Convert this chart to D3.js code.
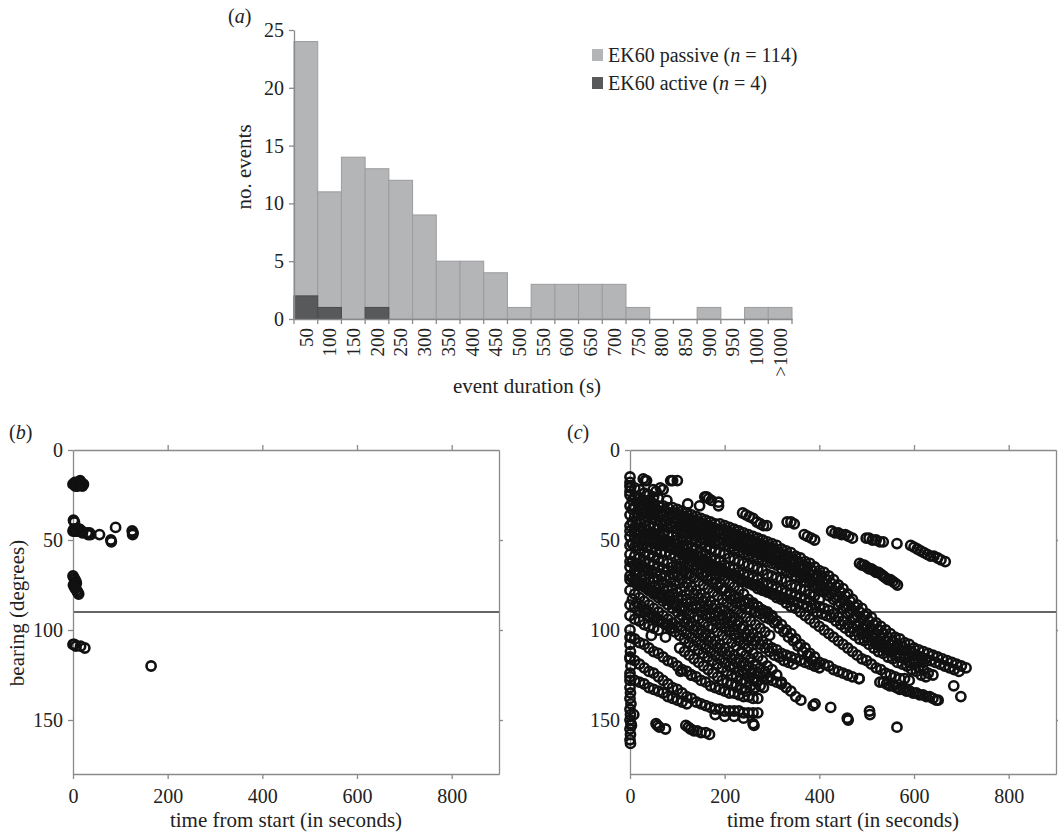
<!DOCTYPE html>
<html><head><meta charset="utf-8">
<script src="https://cdn.jsdelivr.net/npm/d3@7"></script>
<style>
body{margin:0;background:#fff}
svg{display:block}
text{font-family:"Liberation Serif","Times New Roman",serif;fill:#222}
</style>
</head><body>
<svg id="chart" width="1058" height="835"></svg>
<script>
// ---------- Panel (a) data ----------
const durationBins = ["50","100","150","200","250","300","350","400","450","500","550","600","650","700","750","800","850","900","950","1000",">1000"];
const passiveCounts = [24,11,14,13,12,9,5,5,4,1,3,3,3,3,1,0,0,1,0,1,1];
const activeCounts  = [2,1,0,1,0,0,0,0,0,0,0,0,0,0,0,0,0,0,0,0,0];
const histYTicks = [0,5,10,15,20,25];
const legendLabels = [["EK60 passive (", "n", " = 114)"], ["EK60 active (", "n", " = 4)"]];

// ---------- Panels (b),(c) axes ----------
const bearingTicks = [0,50,100,150];
const timeTicks = [0,200,400,600,800];
const refBearing = 90;

// ---------- Panel (b) points [time, bearing] ----------
const panelB = [[0,19],[2,19],[4,18],[6,19],[8,19],[10,18],[12,19],[14,19],[15,17],[16,18],[18,19],[20,20],[22,19],[5,20],[10,20],
[1,39],[3,40],
[0,45],[2,44],[4,45],[8,45],[12,44],[15,45],[18,45],[20,46],[14,44],
[30,46],[32,47],[35,46],[37,47],[56,47],[80,50],[81,51],[90,43],[125,45],[126,47],[127,46],
[0,70],[2,71],[4,72],[6,73],[1,75],[3,76],[5,77],[8,78],[10,79],[12,80],[7,74],
[0,108],[3,108],[6,109],[16,109],[25,110],
[165,120]];

// ---------- Panel (c) tracks, flat [t,b, t,b, ...] ----------
const trackA1 = [0,25,10,26,20,27,30,28,40,29,50,30,60,31,70,31,80,32,90,32,100,33,110,34,120,35,130,36,140,37,150,38,160,39,170,40,180,41,190,41,200,42,210,43,220,44,230,45,240,46,250,47,260,48,270,49,280,50,290,51,300,52,310,53,320,55,330,56,340,57,350,59,360,60,370,62,380,63,390,65,400,67,410,68,420,70,430,72,440,75,450,77,460,80,470,83,480,86,490,88,500,91,510,93,520,96,530,98,540,100,550,102,560,104,570,105,580,107,590,108,600,110,610,111,620,112,630,113,640,114,650,115,660,116,670,117,680,118,690,119,700,120,710,121];
const trackA15 = [5,28,15,29,25,30,35,31,45,32,55,33,65,34,75,34,85,35,95,35,105,36,115,37,125,38,135,39,145,40,155,41,165,42,175,43,185,44,195,44,205,45,215,46,225,47,235,48,245,49,255,50,265,51,275,52,285,53,295,54,305,55,315,57,325,58,335,59,345,61,355,62,365,64,375,65,385,67,395,69,405,70,415,72,425,74,435,76,445,79,455,81,465,84,475,87,485,90,495,92,505,95,515,97,525,100,535,102,545,104,555,106,565,108,575,109,585,111,595,112,605,114,615,115,625,116,635,117,645,118,655,119,665,120,675,121,685,122,695,123];
const trackA2 = [0,31,10,32,20,33,30,34,40,35,50,36,60,37,70,37,80,38,90,38,100,39,110,40,120,41,130,42,140,43,150,44,160,45,170,46,180,47,190,47,200,48,210,49,220,50,230,51,240,52,250,53,260,54,270,55,280,56,290,57,300,58,310,59,320,61,330,62,340,63,350,65,360,66,370,68,380,69,390,71,400,73,410,74,420,76,430,78,440,81,450,83,460,86,470,89,480,92,490,94,500,97,510,99,520,102,530,104,540,106,550,108,560,110,570,111,580,113,590,114,600,116,610,117,620,118];
const trackA25 = [5,33,15,35,25,36,35,37,45,38,55,39,65,40,75,40,85,41,95,41,105,42,115,43,125,44,135,45,145,46,155,47,165,48,175,49,185,50,195,50,205,51,215,52,225,53,235,54,245,55,255,56,265,57,275,58,285,59,295,60,305,61,315,63,325,64,335,65,345,67,355,68,365,70,375,71,385,73,395,75,405,76,415,78,425,80,435,82,445,85,455,87,465,90,475,93,485,96,495,98,505,101,515,103,525,106,535,108,545,110,555,112];
const trackA3 = [60,42,70,42,80,43,90,43,100,44,110,45,120,46,130,47,140,48,150,49,160,50,170,51,180,52,190,52,200,53,210,54,220,55,230,56,240,57,250,58,260,59,270,60,280,61,290,62,300,63,310,64,320,66,330,67,340,68,350,70,360,71,370,73,380,74,390,76,400,78,410,79,420,81,430,83,440,86,450,88,460,91,470,94,480,97,490,99,500,102,510,104,520,107,530,109];
const trackB = [0,36,10,37,20,39,30,40,40,42,50,43,60,44,70,46,80,47,90,48,100,50,110,51,120,53,130,54,140,55,150,57,160,58,170,60,180,61,190,62,200,64,210,65,220,66,230,68,240,69,250,70,260,71,270,72,280,74,290,75,300,76,310,77,320,78,330,79,340,80,350,81,360,82,370,83,380,84,390,86,400,87,410,88,420,89,430,91,440,93,450,95,460,97,470,99,480,101,490,102,500,104,510,106,520,108,530,109,540,111,550,112,560,114,570,115,580,116,590,118,600,119,610,121,620,122,630,124,640,125];
const trackB15 = [5,40,15,41,25,43,35,44,45,46,55,47,65,48,75,50,85,51,95,52,105,54,115,55,125,57,135,58,145,59,155,61,165,62,175,64,185,65,195,66,205,68,215,69,225,70,235,72,245,73,255,74,265,75,275,76,285,78,295,79,305,80,315,81,325,82,335,83,345,84,355,85,365,86,375,87,385,88,395,90,405,91,415,92,425,93,435,95,445,97,455,99,465,101,475,103,485,105,495,106,505,108,515,110,525,112,535,113,545,115,555,116,565,118,575,119,585,120,595,122,605,123,615,125,625,126];
const trackB2 = [0,42,10,43,20,45,30,46,40,47,50,49,60,50,70,51,80,53,90,54,100,55,110,57,120,58,130,59,140,61,150,62,160,63,170,64,180,66,190,67,200,68,210,69,220,70,230,72,240,73,250,74,260,75,270,77,280,78,290,79,300,80,310,82,320,83,330,85,340,87,350,88,360,90,370,92,380,94,390,96,400,98,410,100,420,102,430,104,440,106,450,108,460,110,470,112,480,114,490,116,500,117,510,119,520,121,530,122,540,124,550,125,560,126,570,127,580,127,590,128];
const trackC = [0,48,10,49,20,49,30,50,40,51,50,52,60,53,70,53,80,54,90,55,100,56,110,58,120,60,130,62,140,64,150,66,160,68,170,70,180,72,190,74,200,77,210,79,220,81,230,82,240,84,250,85,260,86,270,87,280,89,290,90,300,92,310,95,320,97,330,100,340,102,350,105,360,108,370,110,380,113,390,115,400,118,410,119,420,120,430,122,440,123,450,124,460,125,470,126,484,127];
const trackCD = [5,52,15,53,25,53,35,54,45,55,55,56,65,57,75,57,85,58,95,59,105,60,115,62,125,64,135,66,145,68,155,70,165,72,175,74,185,76,195,78,205,81,215,83,225,85,235,86,245,88,255,89,265,90,275,91,285,93,295,94,305,96,315,99,325,101,335,104,345,106,355,109,365,112,375,114,385,117,395,119];
const trackD = [0,58,10,59,20,60,30,62,40,63,50,64,60,65,70,66,80,67,90,69,100,70,110,72,120,74,130,76,140,78,150,80,160,82,170,84,180,86,190,88,200,89,210,91,220,93,230,95,240,98,250,100,260,102,270,104,280,106,290,108,300,110,310,111,320,113,330,114,340,115,350,116,360,117,370,118,380,119,390,120,400,121];
const trackDE = [5,62,15,63,25,64,35,66,45,67,55,68,65,69,75,70,85,71,95,73,105,74,115,76,125,78,135,80,145,82,155,84,165,86,175,88,185,90,195,92,205,93,215,95,225,97,235,99,245,102,255,104,265,106,275,108,285,110,295,112,305,114,315,115,325,117,335,118,345,119];
const trackE = [0,65,10,67,20,68,30,70,40,72,50,73,60,75,70,77,80,78,90,80,100,82,110,83,120,85,130,87,140,88,150,90,160,92,170,93,180,95,190,97,200,99,210,101,220,103,230,106,240,108,250,110,260,113,270,115,280,117,290,120,300,122,310,125,320,129,330,132,340,134,350,137,361,139];
const trackEF = [5,71,15,73,25,74,35,76,45,78,55,79,65,81,75,83,85,84,95,86,105,88,115,89,125,91,135,93,145,94,155,96,165,98,175,99,185,101,195,103,205,105,215,107,225,109,235,112,245,114,255,116,265,119,275,121,285,123,295,126];
const trackF = [0,78,10,80,20,82,30,84,40,86,50,88,60,90,70,92,80,94,90,96,100,98,110,100,120,102,130,104,140,106,150,108,160,110,170,112,180,114,190,116,200,118,210,120,220,121,230,123,240,124,250,126,260,127,270,128];
const trackF2 = [5,83,15,85,25,87,35,89,45,91,55,93,65,95,75,97,85,99,95,101,105,103,115,105,125,107,135,109,145,111,155,113,165,115,175,117,185,119,195,121,205,123,215,125,225,126,235,128,245,129,255,131,265,132];
const trackN1 = [0,45,10,46,20,47,30,48,40,49,50,50,60,51,70,52,80,53,90,54,100,55,110,57,120,59,130,60,140,62,150,64,160,65,170,67,180,69,190,70,200,72,210,74,220,76,230,78,240,80,250,83,260,85,270,87,280,89,290,91,300,93];
const trackN2 = [0,62,10,64,20,65,30,67,40,69,50,71,60,72,70,74,80,76,90,77,100,79,110,81,120,83,130,84,140,86,150,87,160,89,170,91,180,92,190,94,200,96,210,98,220,100,230,102,240,104,250,106,260,108];
const trackN3 = [0,70,10,72,20,74,30,76,40,78,50,80,60,82,70,84,80,86,90,88,100,90,110,92,120,94,130,96,140,98,150,100,160,102,170,104,180,106,190,108,200,110,210,112,220,114,230,116,240,118,250,120,260,122,270,124,280,126,290,127,300,128,310,129,320,130];
const trackX1 = [100,47,110,48,120,49,130,50,140,51,150,52,160,54,170,55,180,56,190,57,200,58,210,60,220,61,230,62,240,63,250,64,260,65,270,66,280,67,290,69,300,70,310,71,320,72,330,73,340,75,350,76,360,77,370,78,380,80,390,81,400,83];
const trackX2 = [105,65,115,67,125,69,135,71,145,73,155,75,165,77,175,79,185,81,195,83,205,85,215,87,225,89,235,91,245,93,255,95,265,97,275,99,285,101,295,103];
const trackX3 = [105,94,115,96,125,98,135,100,145,102,155,104,165,106,175,108,185,110,195,112,205,114,215,116,225,118,235,120,245,122,255,124];
const trackX4 = [105,110,115,112,125,114,135,116,145,118,155,120,165,122,175,124,185,126,195,128,205,129,215,130,225,131,235,133,245,134];
const trackM1 = [0,53,10,54,20,55,30,57,40,58,50,59,60,61,70,62,80,63,90,65,100,66,110,67,120,69,130,70];
const trackM2 = [0,72,10,73,20,75,30,76,40,78,50,79,60,80,70,82,80,83,90,85,100,86,110,88];
const trackM3 = [0,86,10,87,20,89,30,90,40,92,50,93,60,95,70,96,80,97,90,99];
const trackM4 = [0,92,10,94,20,95,30,97,40,98,50,99,60,100];
const trackM5 = [0,20,10,21,20,22,30,24,40,25,50,26,60,27];
const trackL1 = [0,104,10,105,20,107,30,108,40,110,50,112,60,113,70,115,80,117,90,118,100,120,110,122,120,123,130,125,140,126,150,128,160,129,170,131,180,132,190,133,200,134,210,135,220,135,230,136,240,137,250,137,260,138,270,138];
const trackL2 = [0,115,10,117,20,119,30,121,40,123,50,124,60,126,70,128,80,130,90,132,100,133,110,135,120,137,130,138,140,140,150,141,160,142,170,143,180,144,190,144,200,145,210,145,220,145,230,145,240,146,250,146,260,146,270,146];
const trackL3 = [0,126,10,128,20,129,30,130,40,132,50,133,60,134,70,135,80,137,90,138,100,139,110,140,120,141];
const trackBp = [528,129,535,129,542,130,549,131,556,131,563,132,570,133,577,133,584,134,591,134,598,135,605,135,612,136,619,136,626,137,633,137,640,138,647,139,651,139];
const upperChain = [238,35,245,36,252,37,260,38,268,40,275,41,282,42,289,42,332,40,340,40,347,41,368,47,375,48,383,49,390,50,426,45,433,46,440,46,447,47,455,47,462,48,470,49,499,49,505,49,512,50,520,50,528,51,535,51,564,52,593,53,600,54,607,55,614,56,621,57,628,58,635,59,642,59,650,60,657,61,666,62];
const shortTrack = [485,63,490,64,495,64,500,65,505,66,510,66,515,67,520,68,525,68,530,69,535,70,540,71,545,72,550,72,555,73,560,74,565,75];
const upperLeft = [0,15,0,18,1,21,0,23,28,16,32,17,35,17,49,22,55,23,64,21,70,22,86,17,90,17,100,17,42,28,78,28,122,30,147,31,158,26,162,26,166,27,172,28,187,29,187,31];
const leftColumn = [0,100,2,104,0,108,1,112,0,116,2,120,0,124,0,128,0,132,1,135,0,138,2,141,0,144,1,147,0,150,2,152,0,155,1,158,0,161,1,163,8,147,3,153];
const scattered = [55,152,58,153,62,154,75,155,118,153,123,154,128,155,135,156,142,156,150,157,160,157,168,158,260,152,262,153,564,154,387,142,391,141,424,143,459,149,461,150,506,145,507,147,484,127,684,131,699,137,45,103,75,104,107,123,129,125,180,147,200,148,220,148,240,149,260,128,268,129,275,131,282,132];

const tracksC = [trackA1,trackA15,trackA2,trackA25,trackA3,trackB,trackB15,trackB2,trackC,trackCD,trackD,trackDE,trackE,trackEF,trackF,trackF2,
  trackN1,trackN2,trackN3,trackX1,trackX2,trackX3,trackX4,trackM1,trackM2,trackM3,trackM4,trackM5,trackL1,trackL2,trackL3,trackBp,upperChain,shortTrack,upperLeft,leftColumn,scattered];
const panelC = tracksC.flatMap(tr => d3.range(0, tr.length, 2).map(i => [tr[i], tr[i+1]]));

// ---------- drawing ----------
const svg = d3.select("#chart");
const AX = "#8a8a8a";
function styleAxis(g, fs){
  g.selectAll("path,line").attr("stroke", AX).attr("stroke-width", 1.3);
  g.selectAll("text").attr("fill","#222").style("font-size", fs+"px").style("font-family","'Liberation Serif',serif");
}

// ----- Panel (a) -----
const hx = d3.scaleBand().domain(durationBins).range([294,792]).padding(0);
const hy = d3.scaleLinear().domain([0,25]).range([319,30]);
const ga = svg.append("g");
ga.selectAll("rect.pas").data(durationBins).join("rect")
  .attr("x", d=>hx(d)).attr("width", hx.bandwidth())
  .attr("y", (d,i)=>hy(passiveCounts[i])).attr("height", (d,i)=>hy(0)-hy(passiveCounts[i]))
  .attr("fill","#b4b5b7").attr("stroke","#9b9c9e").attr("stroke-width",1)
  .style("display",(d,i)=>passiveCounts[i]>0?null:"none");
ga.selectAll("rect.act").data(durationBins).join("rect")
  .attr("x", d=>hx(d)).attr("width", hx.bandwidth())
  .attr("y", (d,i)=>hy(activeCounts[i])).attr("height", (d,i)=>hy(0)-hy(activeCounts[i]))
  .attr("fill","#58595b").attr("stroke","#4a4a4c").attr("stroke-width",1)
  .style("display",(d,i)=>activeCounts[i]>0?null:"none");
const yA = ga.append("g").attr("transform","translate(294,0)")
  .call(d3.axisLeft(hy).tickValues(histYTicks).tickSize(5).tickSizeOuter(0).tickPadding(5));
styleAxis(yA, 20);
const xA = ga.append("g").attr("transform","translate(0,319)")
  .call(d3.axisBottom(hx).tickSize(0).tickSizeOuter(0));
styleAxis(xA, 19);
xA.selectAll("text").attr("transform","rotate(-90)").attr("x",-9).attr("y",0).attr("dy","0.35em").style("text-anchor","end");
ga.selectAll("line.bt").data(durationBins.concat(["end"])).join("line")
  .attr("x1",(d,i)=>i<durationBins.length?hx(d):hx.range()[1]).attr("x2",(d,i)=>i<durationBins.length?hx(d):hx.range()[1])
  .attr("y1",319).attr("y2",324).attr("stroke",AX).attr("stroke-width",1.3);
ga.append("text").attr("x",527).attr("y",393).attr("text-anchor","middle").style("font-size","21px").text("event duration (s)");
ga.append("text").attr("transform","translate(251,167) rotate(-90)").attr("text-anchor","middle").style("font-size","21px").text("no. events");
const lblA = ga.append("text").attr("x",228).attr("y",23).style("font-size","20px");
lblA.append("tspan").text("(");lblA.append("tspan").style("font-style","italic").text("a");lblA.append("tspan").text(")");
// legend
const legColors = ["#b4b5b7","#58595b"];
legendLabels.forEach((parts,i)=>{
  const y0 = 55 + i*28;
  ga.append("rect").attr("x",592).attr("y",y0-6).attr("width",11).attr("height",12).attr("fill",legColors[i]);
  const t = ga.append("text").attr("x",608).attr("y",y0+7).style("font-size","20px");
  t.append("tspan").text(parts[0]);
  t.append("tspan").style("font-style","italic").text(parts[1]);
  t.append("tspan").text(parts[2]);
});

// ----- Scatter panels -----
function scatterPanel(x0, pts, label, labelX, showYTitle){
  const x = d3.scaleLinear().domain([0,900]).range([x0, x0+426]);
  const y = d3.scaleLinear().domain([0,180]).range([450,774]);
  const g = svg.append("g");
  g.append("line").attr("x1",x(0)).attr("x2",x(900)).attr("y1",y(refBearing)).attr("y2",y(refBearing))
    .attr("stroke","#333").attr("stroke-width",1.6);
  const axL = g.append("g").attr("transform",`translate(${x(0)},0)`)
    .call(d3.axisLeft(y).tickValues(bearingTicks).tickSize(5).tickSizeOuter(0).tickPadding(5));
  styleAxis(axL, 20);
  const axR = g.append("g").attr("transform",`translate(${x(900)},0)`)
    .call(d3.axisRight(y).tickValues(bearingTicks.slice(1)).tickSize(4).tickSizeOuter(0).tickFormat(""));
  styleAxis(axR, 20);
  const axB = g.append("g").attr("transform",`translate(0,${y(180)})`)
    .call(d3.axisBottom(x).tickValues(timeTicks).tickSize(5).tickSizeOuter(0).tickPadding(10));
  styleAxis(axB, 20);
  const axT = g.append("g").attr("transform",`translate(0,${y(0)})`)
    .call(d3.axisTop(x).tickValues(timeTicks.slice(1)).tickSize(5).tickSizeOuter(0).tickFormat(""));
  styleAxis(axT, 20);
  g.selectAll("circle").data(pts).join("circle")
    .attr("cx",d=>x(d[0])).attr("cy",d=>y(d[1])).attr("r",4.6)
    .attr("fill","none").attr("stroke","#111").attr("stroke-width",2.6);
  g.append("text").attr("x",x(450)).attr("y",827).attr("text-anchor","middle").style("font-size","21px").text("time from start (in seconds)");
  if(showYTitle){
    g.append("text").attr("transform","translate(24,613) rotate(-90)").attr("text-anchor","middle").style("font-size","21px").text("bearing (degrees)");
  }
  const l = g.append("text").attr("x",labelX).attr("y",439).style("font-size","20px");
  l.append("tspan").text("(");l.append("tspan").style("font-style","italic").text(label);l.append("tspan").text(")");
}
scatterPanel(73, panelB, "b", 9, true);
scatterPanel(630, panelC, "c", 567, false);
</script>
</body></html>
